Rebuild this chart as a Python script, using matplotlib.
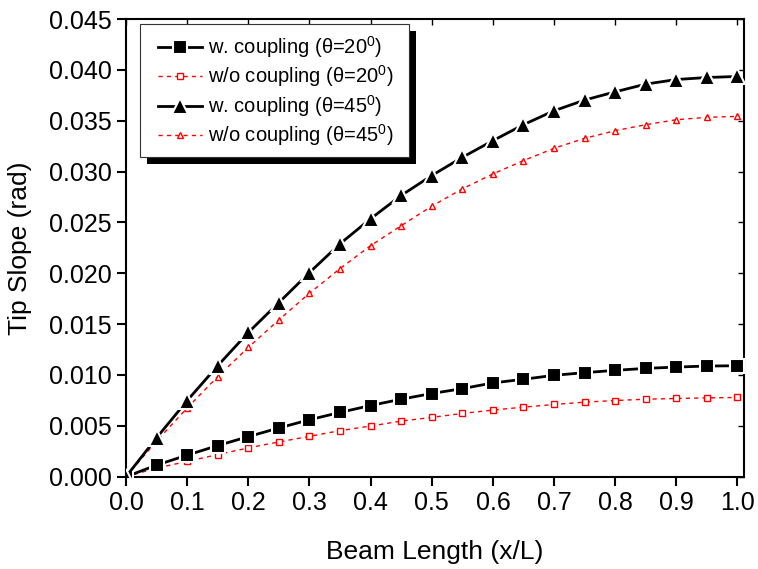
import matplotlib
matplotlib.use("Agg")
import matplotlib.pyplot as plt
from matplotlib.patches import Rectangle

plt.rcParams['font.family'] = ['Liberation Sans', 'DejaVu Sans']
plt.rcParams['mathtext.fontset'] = 'custom'
plt.rcParams['mathtext.rm'] = 'Liberation Sans'
plt.rcParams['mathtext.it'] = 'Liberation Sans:italic'

x = [0.0, 0.05, 0.1, 0.15, 0.2, 0.25, 0.3, 0.35, 0.4, 0.45, 0.5,
     0.55, 0.6, 0.65, 0.7, 0.75, 0.8, 0.85, 0.9, 0.95, 1.0]
w_coupling_20 = [0.0, 0.00114, 0.00212, 0.00306, 0.00394, 0.00479, 0.0056, 0.00632,
                 0.0070, 0.00762, 0.00818, 0.00866, 0.00922, 0.00958, 0.00997,
                 0.01023, 0.01046, 0.01065, 0.01078, 0.01088, 0.01091]
wo_coupling_20 = [0.0, 0.00085, 0.0015, 0.00218, 0.00283, 0.00342, 0.00397, 0.00453,
                  0.00498, 0.00547, 0.00583, 0.00622, 0.00655, 0.00684, 0.0071,
                  0.00733, 0.00749, 0.00762, 0.00769, 0.00775, 0.00779]
w_coupling_45 = [0.0, 0.00382, 0.00748, 0.01091, 0.01418, 0.01712, 0.02007, 0.0229,
                 0.02536, 0.02765, 0.02961, 0.0314, 0.03304, 0.03461, 0.03598,
                 0.03703, 0.03784, 0.0386, 0.03905, 0.03925, 0.03935]
wo_coupling_45 = [0.0, 0.0035, 0.00676, 0.00984, 0.01271, 0.01542, 0.01804, 0.02046,
                  0.02272, 0.02468, 0.0266, 0.0283, 0.02977, 0.03108, 0.03229,
                  0.03327, 0.03402, 0.03461, 0.0351, 0.03533, 0.03543]

labels = [r'w. coupling (θ=20$^\mathregular{0}$)',
          r'w/o coupling (θ=20$^\mathregular{0}$)',
          r'w. coupling (θ=45$^\mathregular{0}$)',
          r'w/o coupling (θ=45$^\mathregular{0}$)']
xticks = [0.0, 0.1, 0.2, 0.3, 0.4, 0.5, 0.6, 0.7, 0.8, 0.9, 1.0]
yticks = [0.000, 0.005, 0.010, 0.015, 0.020, 0.025, 0.030, 0.035, 0.040, 0.045]

W, H = 758, 569
fig = plt.figure(figsize=(W / 100, H / 100), dpi=100)
ax = fig.add_axes([0.1662, 0.1622, 0.9815 - 0.1662, 0.9666 - 0.1622])

ax.plot(x, wo_coupling_20, color='red', lw=1.0, ls=(0, (3, 3)), marker='s', ms=4.2,
        mfc='white', mec='red', mew=1.0, label=labels[1], zorder=2)
ax.plot(x, wo_coupling_45, color='red', lw=1.0, ls=(0, (3, 3)), marker='^', ms=5,
        mfc='white', mec='red', mew=1.0, label=labels[3], zorder=2)
ax.plot(x, w_coupling_20, color='black', lw=2.0, ls='-', marker='s', ms=9.5,
        mfc='black', mec='white', mew=1.5, label=labels[0], zorder=3)
ax.plot(x, w_coupling_45, color='black', lw=2.0, ls='-', marker='^', ms=11,
        mfc='black', mec='white', mew=1.5, label=labels[2], zorder=3)

ax.set_xlim(0, 1.0106)
ax.set_ylim(0, 0.045)
ax.set_xticks(xticks)
ax.set_yticks(yticks)
ax.set_xticklabels(['%.1f' % v for v in xticks])
ax.set_yticklabels(['%.3f' % v for v in yticks])
ax.tick_params(direction='out', length=6.5, width=1.5, labelsize=18, pad=4)
for s in ax.spines.values():
    s.set_linewidth(1.5)

secx = ax.secondary_xaxis('top')
secx.set_xticks(xticks)
secx.tick_params(direction='in', length=4, width=1.0, labeltop=False)
secx.spines['top'].set_visible(False)
secy = ax.secondary_yaxis('right')
secy.set_yticks(yticks)
secy.tick_params(direction='in', length=4, width=1.0, labelright=False)
secy.spines['right'].set_visible(False)

ax.set_xlabel('Beam Length (x/L)', fontsize=19, labelpad=18)
ax.set_ylabel('Tip Slope (rad)', fontsize=19, labelpad=12)

handles, labs = ax.get_legend_handles_labels()
order = [2, 0, 3, 1]
# frame geometry (pixels)
pad_l, pad_r, pad_t, pad_b = 18, 15, 10, 9
frame_left, frame_top = 140, 24
leg = ax.legend([handles[i] for i in order], [labs[i] for i in order],
                loc='upper left',
                bbox_to_anchor=((frame_left + pad_l) / W, 1 - (frame_top + pad_t) / H),
                bbox_transform=fig.transFigure, borderaxespad=0, borderpad=0,
                fontsize=14.5, frameon=False,
                handlelength=2.2, handletextpad=0.3, labelspacing=0.18)
leg.set_zorder(10)

fig.canvas.draw()
bb = leg.get_window_extent()  # display pixels, origin bottom-left
x0 = bb.x0 - pad_l
x1 = bb.x1 + pad_r
y0 = bb.y0 - pad_b
y1 = bb.y1 + pad_t
off = 7
shadow = Rectangle(((x0 + off) / W, (y0 - off) / H), (x1 - x0) / W, (y1 - y0) / H,
                   transform=fig.transFigure, facecolor='black', edgecolor='none',
                   zorder=8, clip_on=False)
frame = Rectangle((x0 / W, y0 / H), (x1 - x0) / W, (y1 - y0) / H,
                  transform=fig.transFigure, facecolor='white', edgecolor='#333333',
                  lw=0.8, zorder=9, clip_on=False)
ax.add_artist(shadow)
ax.add_artist(frame)

fig.savefig('out.png', dpi=100)
